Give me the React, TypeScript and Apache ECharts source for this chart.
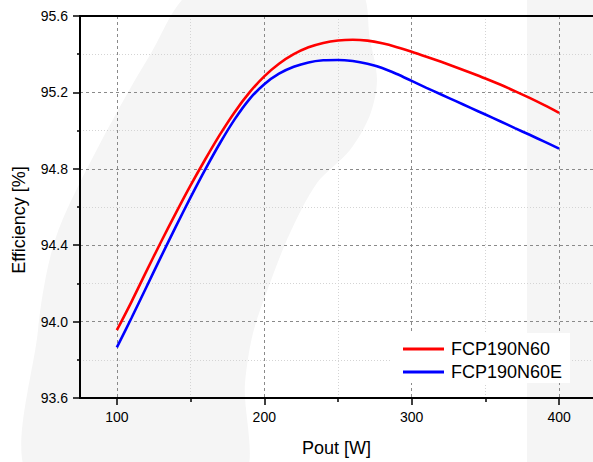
import React, { useEffect, useRef } from "react";
import * as echarts from "echarts";

const powerW = [100, 110, 120, 130, 140, 150, 160, 170, 180, 190, 200, 210, 220, 230, 240, 250, 260, 270, 280, 290, 300, 310, 320, 330, 340, 350, 360, 370, 380, 390, 400];
const effFCP190N60 = [93.955, 94.105, 94.263, 94.418, 94.568, 94.713, 94.85, 94.98, 95.098, 95.2, 95.284, 95.35, 95.4, 95.436, 95.459, 95.472, 95.476, 95.471, 95.457, 95.437, 95.413, 95.387, 95.36, 95.332, 95.303, 95.273, 95.241, 95.207, 95.171, 95.133, 95.093];
const effFCP190N60E = [93.865, 94.02, 94.18, 94.34, 94.497, 94.65, 94.797, 94.935, 95.06, 95.165, 95.243, 95.298, 95.334, 95.357, 95.368, 95.37, 95.364, 95.35, 95.328, 95.296, 95.26, 95.224, 95.189, 95.154, 95.119, 95.084, 95.049, 95.013, 94.978, 94.942, 94.906];
const seriesNames = ["FCP190N60", "FCP190N60E"];
const xMajorTicks = [100, 200, 300, 400];
const xMinorTicks = [150, 250, 350];

export default function App() {
  const ref = useRef<HTMLDivElement>(null);
  useEffect(() => {
    document.body.style.margin = "0";
    const chart = echarts.init(ref.current as HTMLDivElement, null, { renderer: "svg" });
    const font = "Arial, 'Liberation Sans', sans-serif";
    const X_MIN = 75;
    const X_MAX = 423;
    chart.setOption({
      animation: false,
      backgroundColor: "#ffffff",
      textStyle: { fontFamily: font },
      graphic: [
        {
          type: "polygon",
          z: -10,
          silent: true,
          shape: {
            points: [
              [196, -10], [150, 55], [93, 157], [55, 240], [38, 330], [32, 480],
              [240, 480], [245, 383], [253, 333], [270, 283], [290, 233], [317, 183],
              [350, 150], [370, 115], [377, 80], [370, 40], [358, -10]
            ],
            smooth: 0.3
          },
          style: { fill: "#f5f5f5" }
        },
        {
          type: "rect",
          z: -10,
          silent: true,
          shape: { x: 527, y: 0, width: 70, height: 462 },
          style: { fill: "#f5f5f5" }
        }
      ],
      grid: { left: 80, top: 16, right: 0, bottom: 62 },
      legend: {
        orient: "vertical",
        left: 390,
        top: 333,
        backgroundColor: "#ffffff",
        padding: [7, 8, 2, 13],
        itemWidth: 41,
        itemHeight: 3,
        itemGap: 5,
        icon: "rect",
        textStyle: { fontSize: 18, color: "#000", lineHeight: 18, fontFamily: font, padding: [0, 0, 0, 2] },
        data: seriesNames
      },
      xAxis: [
        {
          type: "value",
          min: X_MIN,
          max: X_MAX,
          position: "bottom",
          name: "Pout [W]",
          nameLocation: "middle",
          nameGap: 41,
          nameTextStyle: { fontSize: 18, color: "#000", fontFamily: font },
          axisLine: { show: true, onZero: false, lineStyle: { color: "#000", width: 2 } },
          axisTick: { show: true, customValues: xMajorTicks, length: 7, lineStyle: { color: "#000", width: 1.5 } },
          axisLabel: { show: true, customValues: xMajorTicks, fontSize: 14, color: "#000", margin: 12, fontFamily: font },
          splitLine: { show: true, lineStyle: { color: "#8a8a8a", type: [3, 3], width: 1 } }
        },
        {
          type: "value",
          min: X_MIN,
          max: X_MAX,
          position: "bottom",
          axisLine: { show: false, onZero: false },
          axisTick: { show: true, customValues: xMinorTicks, length: 4, lineStyle: { color: "#000", width: 1.5 } },
          axisLabel: { show: false },
          splitLine: { show: true, lineStyle: { color: "#d4d4d4", type: [1, 2], width: 1 } }
        },
        {
          type: "value",
          min: X_MIN,
          max: X_MAX,
          position: "top",
          axisLine: { show: true, onZero: false, lineStyle: { color: "#000", width: 2 } },
          axisTick: { show: false },
          axisLabel: { show: false },
          splitLine: { show: false }
        }
      ],
      yAxis: {
        type: "value",
        min: 93.6,
        max: 95.6,
        interval: 0.4,
        name: "Efficiency [%]",
        nameLocation: "middle",
        nameGap: 52,
        nameTextStyle: { fontSize: 18, color: "#000", fontFamily: font, padding: [0, 26, 0, 0] },
        axisLine: { show: true, onZero: false, lineStyle: { color: "#000", width: 2 } },
        axisTick: { show: true, length: 7, lineStyle: { color: "#000", width: 1.5 } },
        minorTick: { show: true, splitNumber: 2, length: 3, lineStyle: { color: "#000", width: 1.5 } },
        axisLabel: { fontSize: 14, color: "#000", margin: 12, fontFamily: font, formatter: (v: number) => v.toFixed(1) },
        splitLine: { show: true, lineStyle: { color: "#8a8a8a", type: [3, 3], width: 1 } },
        minorSplitLine: { show: true, lineStyle: { color: "#d4d4d4", type: [1, 2], width: 1 } }
      },
      series: [
        {
          name: seriesNames[0],
          type: "line",
          xAxisIndex: 0,
          data: powerW.map((x, i) => [x, effFCP190N60[i]]),
          smooth: 0.3,
          symbol: "none",
          lineStyle: { color: "#ff0000", width: 2.6 },
          itemStyle: { color: "#ff0000" },
          z: 3
        },
        {
          name: seriesNames[1],
          type: "line",
          xAxisIndex: 0,
          data: powerW.map((x, i) => [x, effFCP190N60E[i]]),
          smooth: 0.3,
          symbol: "none",
          lineStyle: { color: "#0000ff", width: 2.6 },
          itemStyle: { color: "#0000ff" },
          z: 3
        }
      ]
    });
    return () => chart.dispose();
  }, []);
  return <div ref={ref} style={{ width: 593, height: 462 }} />;
}
